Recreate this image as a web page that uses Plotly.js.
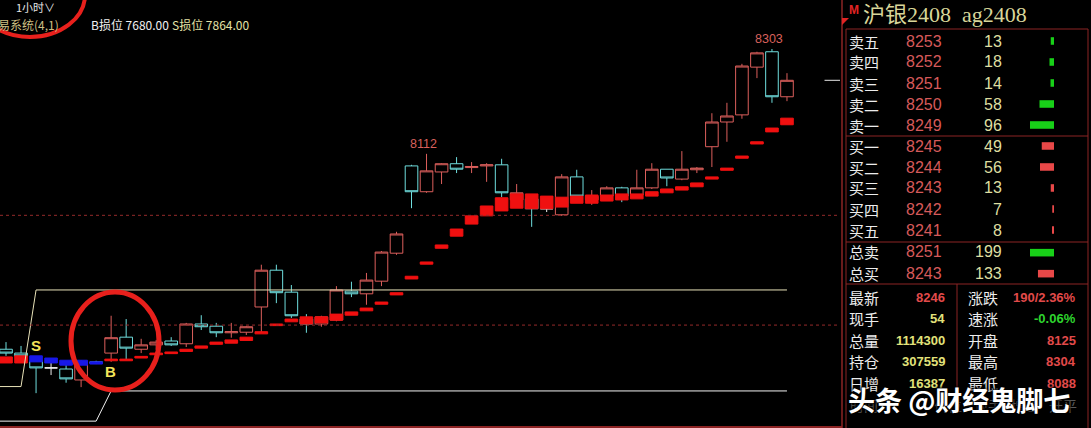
<!DOCTYPE html>
<html><head><meta charset="utf-8">
<script src="https://cdn.plot.ly/plotly-3.0.1.min.js"></script>
<style>html,body{margin:0;padding:0;background:#000;overflow:hidden}#chart{width:1091px;height:428px}</style>
</head><body><div id="chart"></div>
<script>
// ---------- candle data (1 hour bars) ----------
const barIndex = [0,1,2,3,4,5,6,7,8,9,10,11,12,13,14,15,16,17,18,19,20,21,22,23,24,25,26,27,28,29,30,31,32,33,34,35,36,37,38,39,40,41,42,43,44,45,46,47,48,49,50,51,52];
const openP  = [7756,7749,7735,7722,7720,7700,7733,7749,7778,7756,7764,7771,7766,7802,7798,7786,7787,7833,7900,7860,7811,7802,7809,7862,7857,7880,7931,8090,8043,8079,8094,8087,8090,8092,8028,8030,8012,8001,8070,8028,8035,8050,8037,8050,8084,8066,8083,8125,8170,8183,8270,8298,8216];
const highP  = [7769,7762,7736,7731,7733,7736,7735,7817,7811,7775,7773,7778,7804,7818,7804,7804,7798,7910,7910,7873,7820,7817,7871,7879,7895,7935,7970,8092,8112,8095,8106,8097,8095,8103,8057,8032,8019,8075,8083,8046,8053,8052,8083,8095,8084,8117,8088,8186,8205,8276,8298,8303,8259];
const lowP   = [7744,7740,7676,7709,7695,7687,7729,7733,7738,7749,7755,7762,7760,7791,7778,7777,7782,7787,7840,7813,7786,7797,7807,7851,7837,7871,7928,8013,8041,8057,8077,8077,8061,8033,8019,7979,8006,7999,8033,8019,8033,8024,8035,8048,8053,8064,8077,8088,8134,8176,8250,8205,8208];
const closeP = [7749,7744,7722,7722,7702,7733,7731,7777,7758,7764,7769,7764,7802,7797,7786,7788,7797,7900,7859,7817,7802,7815,7864,7857,7882,7933,7966,8043,8081,8094,8084,8089,8092,8041,8041,8012,8012,8070,8035,8035,8050,8035,8050,8084,8068,8084,8086,8170,8181,8272,8296,8216,8246];

// ---------- SAR-type stop band ----------
const sarTop    = [7742,7744,7744,7740,7736,7736,7733,7738,7738,7743,7749,7751,7756,7762,7769,7773,7778,7788,7802,7811,7815,7815,7820,7824,7831,7842,7859,7889,7915,7946,7975,7999,8017,8032,8039,8039,8035,8033,8035,8037,8037,8039,8039,8043,8048,8052,8059,8070,8086,8108,8134,8159,8177];
const sarBottom = [7731,7731,7733,7731,7727,7727,7729,7735,7735,7740,7746,7748,7752,7758,7765,7767,7772,7784,7799,7806,7802,7804,7809,7818,7826,7838,7855,7884,7911,7940,7962,7984,7999,8008,8013,8012,8012,8015,8022,8022,8026,8028,8030,8035,8041,8046,8052,8066,8082,8104,8130,8152,8165];
const sarTrend  = [1,1,-1,-1,-1,-1,-1,1,1,1,1,1,1,1,1,1,1,1,1,1,1,1,1,1,1,1,1,1,1,1,1,1,1,1,1,1,1,1,1,1,1,1,1,1,1,1,1,1,1,1,1,1,1];

// ---------- stop-loss levels ----------
const bStop = 7680, sStop = 7864;
const upperStopX = [-0.4, 1, 2, 52];
const upperStopY = [7688, 7688, sStop, sStop];
const lowerStopX = [-0.4, 6, 7, 52];
const lowerStopY = [7625, 7625, bStop, bStop];
const gridLevels = [8000, 7800];
const lastPrice = 8246;
const sBarIdx = 2, bBarIdx = 7;

// ---------- quote panel ----------
const symbolTitle = '沪银2408  ag2408';
const sellLabels = ['卖五','卖四','卖三','卖二','卖一'];
const sellPrices = [8253,8252,8251,8250,8249];
const sellVols   = [13,18,14,58,96];
const buyLabels  = ['买一','买二','买三','买四','买五'];
const buyPrices  = [8245,8244,8243,8242,8241];
const buyVols    = [49,56,13,7,8];
const totalLabels = ['总卖','总买'];
const totalPrices = [8251,8243];
const totalVols   = [199,133];
const statLabelsL = ['最新','现手','总量','持仓','日增'];
const statValuesL = ['8246','54','1114300','307559','16387'];
const statLabelsR = ['涨跌','速涨','开盘','最高','最低'];
const statValuesR = ['190/2.36%','-0.06%','8125','8304','8088'];
const tickHeaders = ['时间','价位','现手','增仓','开平'];

// ---------- helpers ----------
const W = 1091, H = 428;
const px = x => x / W;
const py = y => 1 - y / H;
const RED = '#dc5f5c', CYAN = '#6fdede', SARRED = '#f01010', SARBLUE = '#1818e8';
const FONT = 'Liberation Sans, Noto Sans CJK SC, sans-serif';
const CJK = 'Noto Sans CJK SC, Liberation Sans, sans-serif';

const pick = (arr, keep) => arr.map((v, i) => keep(i) ? v : null);
const isDoji = i => openP[i] === closeP[i];
const normal = i => !isDoji(i);

const traces = [];
traces.push({
  type: 'candlestick', x: barIndex,
  open: pick(openP, normal), high: pick(highP, normal), low: pick(lowP, normal), close: pick(closeP, normal),
  increasing: {line: {color: RED, width: 1}, fillcolor: '#000'},
  decreasing: {line: {color: CYAN, width: 1}, fillcolor: '#000'},
  whiskerwidth: 0, hoverinfo: 'skip', xaxis: 'x', yaxis: 'y'
});
traces.push({
  type: 'candlestick', x: barIndex,
  open: pick(openP, isDoji), high: pick(highP, isDoji), low: pick(lowP, isDoji), close: pick(closeP, isDoji),
  increasing: {line: {color: '#f0f0f0', width: 1}, fillcolor: '#000'},
  decreasing: {line: {color: '#f0f0f0', width: 1}, fillcolor: '#000'},
  whiskerwidth: 0, hoverinfo: 'skip', xaxis: 'x', yaxis: 'y'
});
// stop band blocks, drawn as filled boxes above the candles (red: bullish, blue: bearish)
const bull = i => sarTrend[i] > 0;
traces.push({
  type: 'candlestick', x: barIndex,
  open: sarBottom.map((b, i) => bull(i) ? b : sarTop[i]),
  close: sarTop.map((t, i) => bull(i) ? t : sarBottom[i]),
  high: sarTop, low: sarBottom,
  increasing: {line: {color: SARRED, width: 1}, fillcolor: SARRED},
  decreasing: {line: {color: SARBLUE, width: 1}, fillcolor: SARBLUE},
  whiskerwidth: 0, hoverinfo: 'skip', xaxis: 'x', yaxis: 'y'
});
// stop-loss lines
traces.push({type: 'scatter', mode: 'lines', x: upperStopX, y: upperStopY, line: {color: '#e8e2b8', width: 1}, hoverinfo: 'skip'});
traces.push({type: 'scatter', mode: 'lines', x: lowerStopX, y: lowerStopY, line: {color: '#f2f2f2', width: 1}, hoverinfo: 'skip'});
gridLevels.forEach(g => traces.push({type: 'scatter', mode: 'lines', x: [-0.4, 55.6], y: [g, g], line: {color: '#942a2a', width: 1, dash: '3px,3px'}, hoverinfo: 'skip'}));
traces.push({type: 'scatter', mode: 'lines', x: [54.5, 55.6], y: [lastPrice, lastPrice], line: {color: '#e8e8e8', width: 1}, hoverinfo: 'skip'});

// order-book volume bars
const bookMax = Math.max(...sellVols, ...buyVols);
const totMax = Math.max(...totalVols);
traces.push({
  type: 'bar', orientation: 'h', xaxis: 'x2', yaxis: 'y2',
  x: sellVols.map(v => v / bookMax), y: sellVols.map((v, k) => k),
  width: 0.36, marker: {color: '#18d018'}, hoverinfo: 'skip'
});
traces.push({
  type: 'bar', orientation: 'h', xaxis: 'x2', yaxis: 'y2',
  x: buyVols.map(v => v / bookMax), y: buyVols.map((v, k) => k + 5),
  width: 0.36, marker: {color: '#e84848'}, hoverinfo: 'skip'
});
traces.push({
  type: 'bar', orientation: 'h', xaxis: 'x2', yaxis: 'y2',
  x: totalVols.map(v => v / totMax), y: totalVols.map((v, k) => k + 10.08),
  width: 0.36, marker: {color: totalVols.map((v, k) => k === 0 ? '#18d018' : '#e84848')}, hoverinfo: 'skip'
});

// ---------- annotations ----------
const ann = [];
const txt = (x, y, text, color, size, anchor, extra) => ann.push(Object.assign({
  xref: 'paper', yref: 'paper', x: px(x), y: py(y), text, showarrow: false,
  xanchor: anchor || 'left', yanchor: 'middle',
  font: {family: CJK, size, color}
}, extra || {}));

txt(14, 7, '1小时∨', '#e6e6e6', 11);
txt(-4, 24, '易系统(4,1)', '#cdbf82', 12);
txt(89, 24, 'B损位 ' + bStop.toFixed(2), '#f0f0f0', 12);
txt(170, 24, 'S损位 ' + sStop.toFixed(2), '#e4e2a6', 12);

const hiIdxA = 28, hiIdxB = 51;
[hiIdxA, hiIdxB].forEach(i => ann.push({
  xref: 'x', yref: 'y', x: i, y: highP[i], text: String(highP[i]), showarrow: false,
  xanchor: 'center', yanchor: 'bottom', xshift: -3, yshift: 1,
  font: {family: FONT, size: 12.5, color: '#d8605c'}
}));
ann.push({xref: 'x', yref: 'y', x: sBarIdx, y: sarTop[sBarIdx], text: '<b>S</b>', showarrow: false,
  xanchor: 'center', yanchor: 'bottom', font: {family: FONT, size: 15, color: '#f4e35a'}});
ann.push({xref: 'x', yref: 'y', x: bBarIdx, y: lowP[bBarIdx], text: '<b>B</b>', showarrow: false,
  xanchor: 'center', yanchor: 'top', yshift: 1, xshift: -1, font: {family: FONT, size: 15, color: '#f4e35a'}});

txt(847, 10, '<b>M</b>', '#e02424', 12, 'left', {font: {family: FONT, size: 12, color: '#e02424'}});
txt(861, 15, symbolTitle, '#d8d69a', 22, 'left', {font: {family: 'Liberation Serif, Noto Sans CJK SC, serif', size: 22, color: '#d8d69a'}});

const rowYBook = [41, 62, 83, 104, 125, 146, 167, 188, 209, 230];
const bookLabels = sellLabels.concat(buyLabels);
const bookPrices = sellPrices.concat(buyPrices);
const bookVols = sellVols.concat(buyVols);
bookLabels.forEach((l, k) => {
  txt(847, rowYBook[k], l, '#ececec', 15);
  txt(904, rowYBook[k], String(bookPrices[k]), '#d65a5a', 16, 'left', {font: {family: FONT, size: 16, color: '#d65a5a'}});
  txt(1004, rowYBook[k], String(bookVols[k]), '#dedea0', 16, 'right', {font: {family: FONT, size: 16, color: '#dedea0'}});
});
const rowYTot = [252, 273];
totalLabels.forEach((l, k) => {
  txt(847, rowYTot[k], l, '#ececec', 15);
  txt(904, rowYTot[k], String(totalPrices[k]), '#d65a5a', 16, 'left', {font: {family: FONT, size: 16, color: '#d65a5a'}});
  txt(1004, rowYTot[k], String(totalVols[k]), '#dedea0', 16, 'right', {font: {family: FONT, size: 16, color: '#dedea0'}});
});
const rowYStat = [297, 318, 340, 361, 383];
const leftValColor = ['#e24a4a', '#e2e27a', '#e2e27a', '#e2e27a', '#e2e27a'];
const rightValColor = ['#e24a4a', '#2ed42e', '#e24a4a', '#e24a4a', '#e24a4a'];
statLabelsL.forEach((l, k) => {
  txt(847, rowYStat[k], l, '#ececec', 15);
  txt(947, rowYStat[k], '<b>' + statValuesL[k] + '</b>', leftValColor[k], 13, 'right', {font: {family: FONT, size: 13, color: leftValColor[k]}});
  txt(966, rowYStat[k], statLabelsR[k], '#ececec', 15);
  txt(1078, rowYStat[k], '<b>' + statValuesR[k] + '</b>', rightValColor[k], 13, 'right', {font: {family: FONT, size: 13, color: rightValColor[k]}});
});
const tickHeaderX = [848, 932, 972, 1009, 1047];
tickHeaders.forEach((t, k) => txt(tickHeaderX[k], 405, t, '#5a5a5a', 14));
txt(846, 399, '<b>头条 @财经鬼脚七</b>', '#ffffff', 27, 'left', {font: {family: CJK, size: 27, color: '#ffffff', shadow: '1px 1px 3px #000, -1px -1px 3px #000'}});

// ---------- shapes ----------
const BORDER = '#8c2424';
const line = (x0, y0, x1, y1, color, width) => ({type: 'line', xref: 'paper', yref: 'paper',
  x0: px(x0), y0: py(y0), x1: px(x1), y1: py(y1), line: {color, width}, layer: 'above'});
const shapes = [
  line(842, 0, 842, 428, BORDER, 1.5),
  line(0, 427, 842, 427, BORDER, 2),
  line(846, 29, 1088, 29, BORDER, 1),
  line(846, 29, 846, 428, BORDER, 1),
  line(1088, 29, 1088, 428, BORDER, 1),
  line(846, 136, 1088, 136, BORDER, 1),
  line(846, 242, 1088, 242, BORDER, 1),
  line(846, 284, 1088, 284, BORDER, 1),
  line(957, 284, 957, 394, BORDER, 1),
  {type: 'path', xref: 'paper', yref: 'paper', path: `M ${px(842)} ${py(18)} L ${px(849)} ${py(18)} L ${px(842)} ${py(25)} Z`, fillcolor: '#e02424', line: {width: 0}},
  {type: 'circle', xref: 'paper', yref: 'paper', x0: px(-25), x1: px(85), y0: py(37), y1: py(-47), line: {color: '#e8201c', width: 4}, layer: 'above'},
  {type: 'circle', xref: 'paper', yref: 'paper', x0: px(71), x1: px(159), y0: py(390), y1: py(292), line: {color: '#e8201c', width: 5}, layer: 'above'}
];

const axisOff = {showgrid: false, zeroline: false, showticklabels: false, ticks: '', showline: false, fixedrange: true};
const layout = {
  width: W, height: H,
  margin: {l: 0, r: 0, t: 0, b: 0, pad: 0},
  paper_bgcolor: '#000', plot_bgcolor: '#000',
  showlegend: false, hovermode: false,
  boxmode: 'overlay', boxgap: 0.16, boxgroupgap: 0,
  xaxis: Object.assign({}, axisOff, {domain: [0, px(840)], range: [-0.4, 55.53], rangeslider: {visible: false}}),
  yaxis: Object.assign({}, axisOff, {domain: [0, 1], range: [7612.5, 8392.3]}),
  xaxis2: Object.assign({}, axisOff, {domain: [px(1030), px(1054)], range: [1, 0], anchor: 'y2'}),
  yaxis2: Object.assign({}, axisOff, {domain: [0, 1], range: [18.43, -1.952], anchor: 'x2'}),
  annotations: ann,
  shapes: shapes,
  font: {family: CJK, color: '#ddd'}
};
Plotly.newPlot('chart', traces, layout, {staticPlot: true, displayModeBar: false});
</script>
</body></html>
